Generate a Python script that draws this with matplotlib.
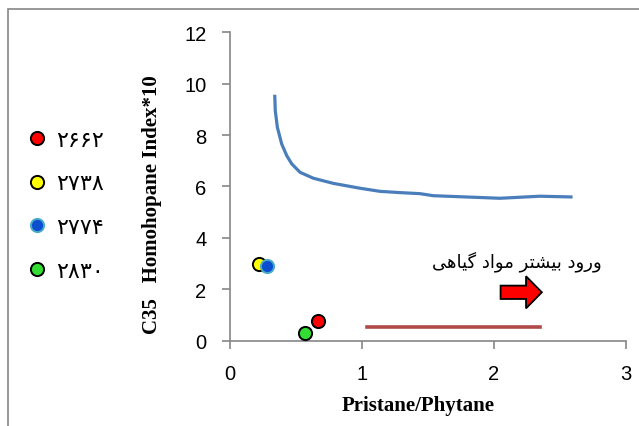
import matplotlib
matplotlib.use('Agg')
import matplotlib.pyplot as plt
from matplotlib.lines import Line2D
from matplotlib.patches import FancyArrow, Rectangle

# samples (Pr/Ph, C35 homohopane index * 10)
samples = ['۲۶۶۲', '۲۷۳۸', '۲۷۷۴', '۲۸۳۰']
pr_ph = [0.669, 0.222, 0.283, 0.569]
c35 = [0.78, 2.98, 2.89, 0.29]
face = ['#ff0000', '#ffff00', '#0b4fd0', '#33dd33']
edge = ['black', 'black', '#4bacc6', 'black']

# boundary curve
curve_x = [0.339, 0.343, 0.359, 0.392, 0.430, 0.468, 0.531, 0.632, 0.783, 0.986,
           1.137, 1.289, 1.44, 1.541, 1.795, 2.047, 2.35, 2.598]
curve_y = [9.57, 8.95, 8.30, 7.65, 7.20, 6.88, 6.55, 6.32, 6.12, 5.93,
           5.81, 5.76, 5.72, 5.64, 5.59, 5.54, 5.62, 5.59]

# low horizontal line
low_x = [1.04, 2.35]
low_y = [0.52, 0.52]

# "more land plant input" written with presentation forms, reversed for LTR drawing
label_fa = ''.join(reversed(
    '\uFEED\uFEAD\uFEED\uFEA9 '
    '\uFE91\uFEF4\uFEB8\uFE98\uFEAE '
    '\uFEE3\uFEEE\uFE8D\uFEA9 '
    '\uFB94\uFEF4\uFE8E\uFEEB\uFEF0'))

grey = '#868686'

fig = plt.figure(figsize=(6.39, 4.27), dpi=100)
ax = fig.add_axes([0.360, 0.200, 0.619, 0.722])

ax.plot(curve_x, curve_y, color='#4a7ebb', lw=2.3, solid_capstyle='butt')
ax.plot(low_x, low_y, color='#b04a48', lw=2.6)

for x, y, f, e in zip(pr_ph, c35, face, edge):
    ax.scatter(x, y, s=90, c=f, edgecolors=e, linewidths=1.4, zorder=3)

ax.add_patch(FancyArrow(2.052, 1.88, 0.313, 0, width=0.52, head_width=1.25,
                        head_length=0.12, length_includes_head=True,
                        facecolor='#ff0000', edgecolor='black', lw=1.3, zorder=3))
ax.text(2.82, 3.12, label_fa, ha='right', va='center', fontsize=13,
        family=['DejaVu Sans'])

ax.set_xlim(0, 3)
ax.set_ylim(0, 12)
ax.set_xticks([0, 1, 2, 3])
ax.set_yticks(range(0, 13, 2))
for spine in ('top', 'right'):
    ax.spines[spine].set_visible(False)
for spine in ('left', 'bottom'):
    ax.spines[spine].set_color(grey)
    ax.spines[spine].set_linewidth(1.2)
ax.tick_params(direction='out', length=6, width=1.2, color=grey,
               labelsize=14.5, pad=11)
for lab in ax.get_xticklabels() + ax.get_yticklabels():
    lab.set_family('Liberation Sans')

ax.text(0.475, -0.208, 'Pristane/Phytane', transform=ax.transAxes,
        ha='center', va='center', fontsize=15, fontweight='bold',
        family='Liberation Serif')
ax.text(-0.197, 0.443, 'C35   Homohopane Index*10', transform=ax.transAxes,
        ha='center', va='center', rotation=90, fontsize=15, fontweight='bold',
        family='Liberation Serif')

handles = [Line2D([], [], ls='', marker='o', markersize=9.5, markerfacecolor=f,
                  markeredgecolor=e, markeredgewidth=1.4)
           for f, e in zip(face, edge)]
fig.legend(handles, samples, loc='upper left', bbox_to_anchor=(0.009, 0.741),
           frameon=False, labelspacing=1.07, handletextpad=0.35,
           handlelength=1.0, prop={'family': 'DejaVu Sans', 'size': 16})

fig.patches.append(Rectangle((8 / 639, -0.2), 1.5, 1.2 - 9.5 / 427,
                             transform=fig.transFigure, fill=False,
                             edgecolor=grey, lw=1.2))

fig.savefig('out.png', dpi=100)
